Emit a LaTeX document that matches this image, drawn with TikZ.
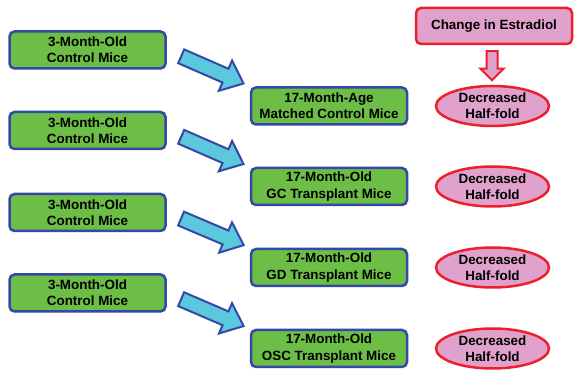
\documentclass[tikz,border=0pt]{standalone}
\usepackage{fontspec}
\setmainfont{Liberation Sans}
\usetikzlibrary{shapes,shapes.arrows}

\definecolor{boxgreen}{RGB}{108,190,70}
\definecolor{boxblue}{RGB}{52,72,165}
\definecolor{boxpink}{RGB}{224,162,204}
\definecolor{boxred}{RGB}{236,32,44}
\definecolor{arrowcyan}{RGB}{92,200,222}

\begin{document}
\begin{tikzpicture}[x=1pt,y=-1pt,
    greenbox/.style={draw=boxblue, line width=2.5pt, fill=boxgreen, rounded corners=5pt,
      minimum width=156pt, minimum height=37pt, align=center, inner sep=0pt,
      font=\fontsize{13.4}{16.2}\selectfont\bfseries},
    pinkoval/.style={ellipse, draw=boxred, line width=2.5pt, fill=boxpink,
      minimum width=113pt, minimum height=40pt, align=center, inner sep=0pt,
      font=\fontsize{13.4}{16.2}\selectfont\bfseries},
    pinkbox/.style={draw=boxred, line width=2.5pt, fill=boxpink, rounded corners=5pt,
      minimum width=156pt, minimum height=36pt, inner sep=0pt,
      font=\fontsize{13.4}{16.2}\selectfont\bfseries},
    bluearrow/.style={single arrow, draw=boxblue, line width=2pt, fill=arrowcyan,
      minimum height=68pt, minimum width=0pt, inner xsep=0pt, inner ysep=6.5pt,
      single arrow head extend=9pt, single arrow tip angle=80},
    redarrow/.style={single arrow, draw=boxred, line width=2pt, fill=boxpink,
      minimum height=29pt, minimum width=0pt, inner xsep=0pt, inner ysep=4.5pt,
      single arrow head extend=6pt, single arrow tip angle=90, rotate=-90}]
    \useasboundingbox (0,0) rectangle (574,371);

    % left column
    \foreach \i/\y in {1/50, 2/130.5, 3/212.5, 4/293}
    {
      \node[greenbox] (l\i) at (87.5,\y) {3-Month-Old\\Control Mice};
    }

    % middle column
    \foreach \i/\y/\txt in {1/106/{17-Month-Age\\Matched Control Mice},
                            2/186.5/{17-Month-Old\\GC Transplant Mice},
                            3/267.5/{17-Month-Old\\GD Transplant Mice},
                            4/348.5/{17-Month-Old\\OSC Transplant Mice}}
    {
      \node[greenbox] (m\i) at (329,\y) {\txt};
      \node[pinkoval] (d\i) at (492.5,\y) {Decreased\\Half-fold};
      \path (l\i.east) -- node[sloped, bluearrow] {} (m\i.north west);
    }

    \node[pinkbox] (est) at (494,26) {Change in Estradiol};
    \node[redarrow] (down) at (492,63) {};
  \end{tikzpicture}
\end{document}
